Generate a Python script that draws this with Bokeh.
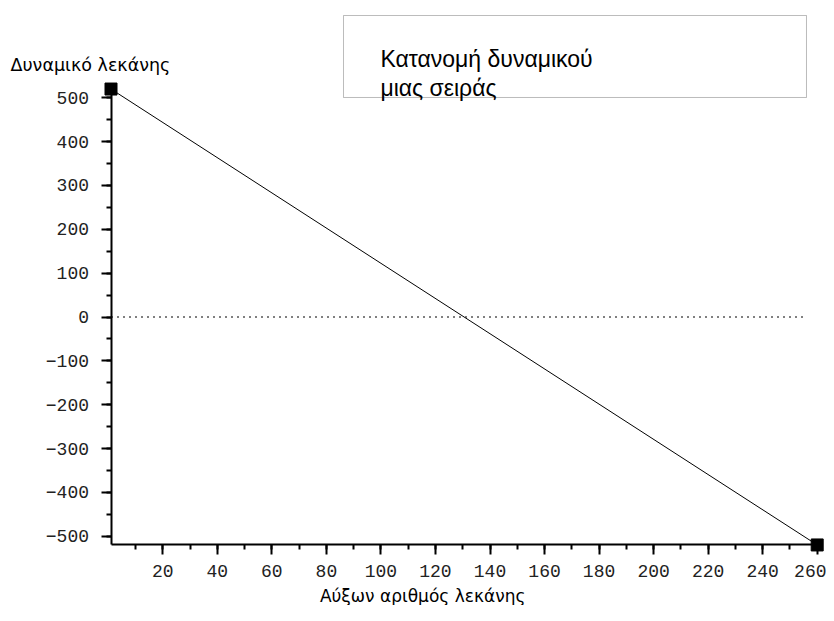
from bokeh.plotting import figure
from bokeh.models import Range1d, FixedTicker, BoxAnnotation, Label
from bokeh.embed import file_html
from bokeh.resources import INLINE

# ---- data ----
basin_index = [1, 260]
potential = [520, -520]
zero_x = [1, 255.5]
zero_y = [0, 0]
x_major = [20, 40, 60, 80, 100, 120, 140, 160, 180, 200, 220, 240, 260]
x_minor = list(range(10, 261, 10))
y_major = [-500, -400, -300, -200, -100, 0, 100, 200, 300, 400, 500]
y_minor = list(range(-500, 501, 50))
title_lines = ["Κατανομή δυναμικού", "μιας σειράς"]
y_title = "Δυναμικό λεκάνης"
x_title = "Αύξων αριθμός λεκάνης"

X_MIN, X_MAX = 1, 260
Y_MIN, Y_MAX = -520, 520

PX_PER_Y = 0.4384
W, H = 826, 605
p = figure(width=W, height=H, output_backend="svg", toolbar_location=None,
           x_range=Range1d(-39.53, 263.41),
           y_range=Range1d(-(H - 316.5) / PX_PER_Y, 316.5 / PX_PER_Y),
           min_border=0, min_border_left=0, min_border_right=0,
           min_border_top=0, min_border_bottom=0)
p.outline_line_color = None
p.xgrid.visible = False
p.ygrid.visible = False
p.background_fill_color = "white"
p.border_fill_color = "white"

tick_font = "Liberation Mono"
xa, ya = p.xaxis[0], p.yaxis[0]
xa.fixed_location = Y_MIN
ya.fixed_location = X_MIN
for ax, mj, mn, b, so in ((xa, x_major, x_minor, (X_MIN, 261.5), 10),
                          (ya, y_major, y_minor, (Y_MIN, Y_MAX), 12)):
    ax.ticker = FixedTicker(ticks=mj, minor_ticks=mn)
    ax.bounds = b
    ax.axis_line_width = 2
    ax.axis_line_color = "black"
    ax.major_tick_line_width = 2
    ax.minor_tick_line_width = 2
    ax.major_tick_out = 10
    ax.major_tick_in = 0
    ax.minor_tick_out = 5
    ax.minor_tick_in = 0
    ax.major_label_text_font = tick_font
    ax.major_label_text_font_size = "18px"
    ax.major_label_text_color = "#222222"
    ax.major_label_standoff = so

# dotted zero line
p.line(zero_x, zero_y, line_color="black", line_width=1, line_dash="2 4")
# main line
p.line(basin_index, potential, line_color="black", line_width=1)
p.scatter(basin_index, potential, marker="square", size=12, color="black")

# title box
box = BoxAnnotation(left=86.27, right=256.07, bottom=500.7, top=687.7,
                    fill_color="white", fill_alpha=1.0,
                    line_color="#222222", line_width=1)
p.add_layout(box)
p.add_layout(Label(x=99.8, y=589, text=title_lines[0], text_font="Liberation Sans",
                   text_font_size="23px", text_color="black", text_baseline="alphabetic"))
p.add_layout(Label(x=99.8, y=522.8, text=title_lines[1], text_font="Liberation Sans",
                   text_font_size="23px", text_color="black", text_baseline="alphabetic"))

# axis titles
p.add_layout(Label(x=-35.86, y=573.7, text=y_title, text_font="DejaVu Sans",
                   text_font_size="17.5px", text_color="black", text_baseline="alphabetic"))
p.add_layout(Label(x=115.3, y=-(595 - 316.5) / PX_PER_Y, text=x_title,
                   text_font="DejaVu Sans",
                   text_font_size="17px", text_color="black", text_baseline="alphabetic",
                   text_align="center"))

open("out.html", "w").write(file_html(p, INLINE))
